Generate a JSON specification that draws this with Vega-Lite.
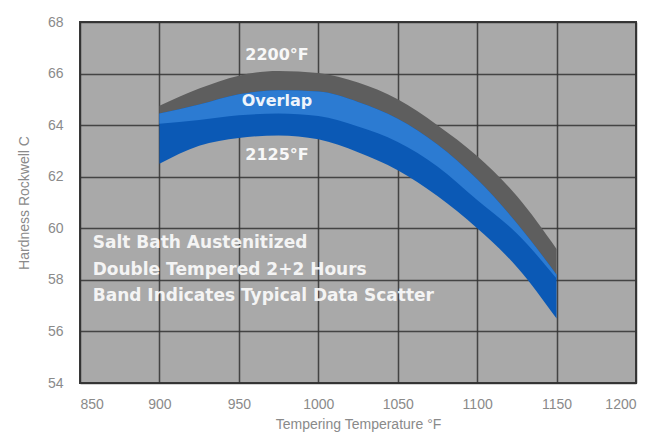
{
  "$schema": "https://vega.github.io/schema/vega-lite/v6.json",
  "autosize": {"type": "none"},
  "width": 556,
  "height": 361,
  "padding": {"left": 80, "top": 22, "right": 18, "bottom": 50},
  "background": "#ffffff",
  "config": {
    "view": {"fill": "#a9a9a9", "stroke": "#3a3a3a", "strokeWidth": 2},
    "axis": {
      "labelFont": "Liberation Sans",
      "labelFontSize": 14,
      "labelColor": "#8a8a8a",
      "titleFont": "Liberation Sans",
      "titleFontSize": 14,
      "titleFontWeight": "normal",
      "titleColor": "#8a8a8a",
      "ticks": false,
      "domain": false,
      "gridColor": "#333333",
      "gridWidth": 1.5,
      "gridOpacity": 0.85,
      "zindex": 1
    }
  },
  "datasets": {
    "bands": [
      {"temp": 900, "band": "2200°F", "top": 64.75, "bottom": 64.05},
      {"temp": 925, "band": "2200°F", "top": 65.42, "bottom": 64.2},
      {"temp": 950, "band": "2200°F", "top": 65.92, "bottom": 64.38},
      {"temp": 975, "band": "2200°F", "top": 66.1, "bottom": 64.45},
      {"temp": 1000, "band": "2200°F", "top": 66.02, "bottom": 64.35},
      {"temp": 1025, "band": "2200°F", "top": 65.65, "bottom": 63.95},
      {"temp": 1050, "band": "2200°F", "top": 65.0, "bottom": 63.35},
      {"temp": 1075, "band": "2200°F", "top": 64.0, "bottom": 62.4},
      {"temp": 1100, "band": "2200°F", "top": 62.8, "bottom": 61.1},
      {"temp": 1125, "band": "2200°F", "top": 61.25, "bottom": 59.8},
      {"temp": 1150, "band": "2200°F", "top": 59.2, "bottom": 58.05},
      {"temp": 900, "band": "2125°F", "top": 64.45, "bottom": 62.5},
      {"temp": 925, "band": "2125°F", "top": 64.8, "bottom": 63.2},
      {"temp": 950, "band": "2125°F", "top": 65.2, "bottom": 63.5},
      {"temp": 975, "band": "2125°F", "top": 65.35, "bottom": 63.6},
      {"temp": 1000, "band": "2125°F", "top": 65.3, "bottom": 63.45},
      {"temp": 1025, "band": "2125°F", "top": 64.9, "bottom": 62.95},
      {"temp": 1050, "band": "2125°F", "top": 64.25, "bottom": 62.25},
      {"temp": 1075, "band": "2125°F", "top": 63.25, "bottom": 61.25},
      {"temp": 1100, "band": "2125°F", "top": 61.9, "bottom": 60.0},
      {"temp": 1125, "band": "2125°F", "top": 60.2, "bottom": 58.5},
      {"temp": 1150, "band": "2125°F", "top": 58.2, "bottom": 56.5},
      {"temp": 900, "band": "Overlap", "top": 64.45, "bottom": 64.05},
      {"temp": 925, "band": "Overlap", "top": 64.8, "bottom": 64.2},
      {"temp": 950, "band": "Overlap", "top": 65.2, "bottom": 64.38},
      {"temp": 975, "band": "Overlap", "top": 65.35, "bottom": 64.45},
      {"temp": 1000, "band": "Overlap", "top": 65.3, "bottom": 64.35},
      {"temp": 1025, "band": "Overlap", "top": 64.9, "bottom": 63.95},
      {"temp": 1050, "band": "Overlap", "top": 64.25, "bottom": 63.35},
      {"temp": 1075, "band": "Overlap", "top": 63.25, "bottom": 62.4},
      {"temp": 1100, "band": "Overlap", "top": 61.9, "bottom": 61.1},
      {"temp": 1125, "band": "Overlap", "top": 60.2, "bottom": 59.8},
      {"temp": 1150, "band": "Overlap", "top": 58.2, "bottom": 58.05}
    ],
    "bandLabels": [
      {"temp": 974, "hrc": 66.72, "label": "2200°F"},
      {"temp": 974, "hrc": 64.94, "label": "Overlap"},
      {"temp": 974, "hrc": 62.85, "label": "2125°F"}
    ],
    "notes": [
      {"temp": 858, "hrc": 59.43, "label": "Salt Bath Austenitized"},
      {"temp": 858, "hrc": 58.39, "label": "Double Tempered 2+2 Hours"},
      {"temp": 858, "hrc": 57.38, "label": "Band Indicates Typical Data Scatter"}
    ]
  },
  "layer": [
    {
      "data": {"name": "bands"},
      "mark": {"type": "area", "interpolate": "monotone"},
      "encoding": {
        "x": {
          "field": "temp", "type": "quantitative",
          "scale": {"domain": [850, 1200], "nice": false},
          "axis": {"values": [850, 900, 950, 1000, 1050, 1100, 1150, 1200], "format": "d", "title": "Tempering Temperature °F", "labelPadding": 14, "titlePadding": 6, "grid": true}
        },
        "y": {
          "field": "top", "type": "quantitative",
          "scale": {"domain": [54, 68], "nice": false, "zero": false},
          "axis": {"values": [54, 56, 58, 60, 62, 64, 66, 68], "title": "Hardness Rockwell C", "labelPadding": 17, "titlePadding": 16, "grid": true}
        },
        "y2": {"field": "bottom"},
        "color": {
          "field": "band", "type": "nominal",
          "scale": {"domain": ["2200°F", "2125°F", "Overlap"], "range": ["#5e5e5e", "#0b59b5", "#2c7bd2"]},
          "legend": null
        },
        "order": {"field": "band", "sort": "descending"}
      }
    },
    {
      "data": {"name": "bandLabels"},
      "mark": {"type": "text", "font": "DejaVu Sans", "fontWeight": "bold", "fontSize": 16, "color": "#ffffff", "opacity": 0.92, "align": "center", "baseline": "middle"},
      "encoding": {
        "x": {"field": "temp", "type": "quantitative"},
        "y": {"field": "hrc", "type": "quantitative"},
        "text": {"field": "label"}
      }
    },
    {
      "data": {"name": "notes"},
      "mark": {"type": "text", "font": "DejaVu Sans", "fontWeight": "bold", "fontSize": 17, "color": "#ffffff", "opacity": 0.88, "align": "left", "baseline": "middle"},
      "encoding": {
        "x": {"field": "temp", "type": "quantitative"},
        "y": {"field": "hrc", "type": "quantitative"},
        "text": {"field": "label"}
      }
    }
  ]
}
